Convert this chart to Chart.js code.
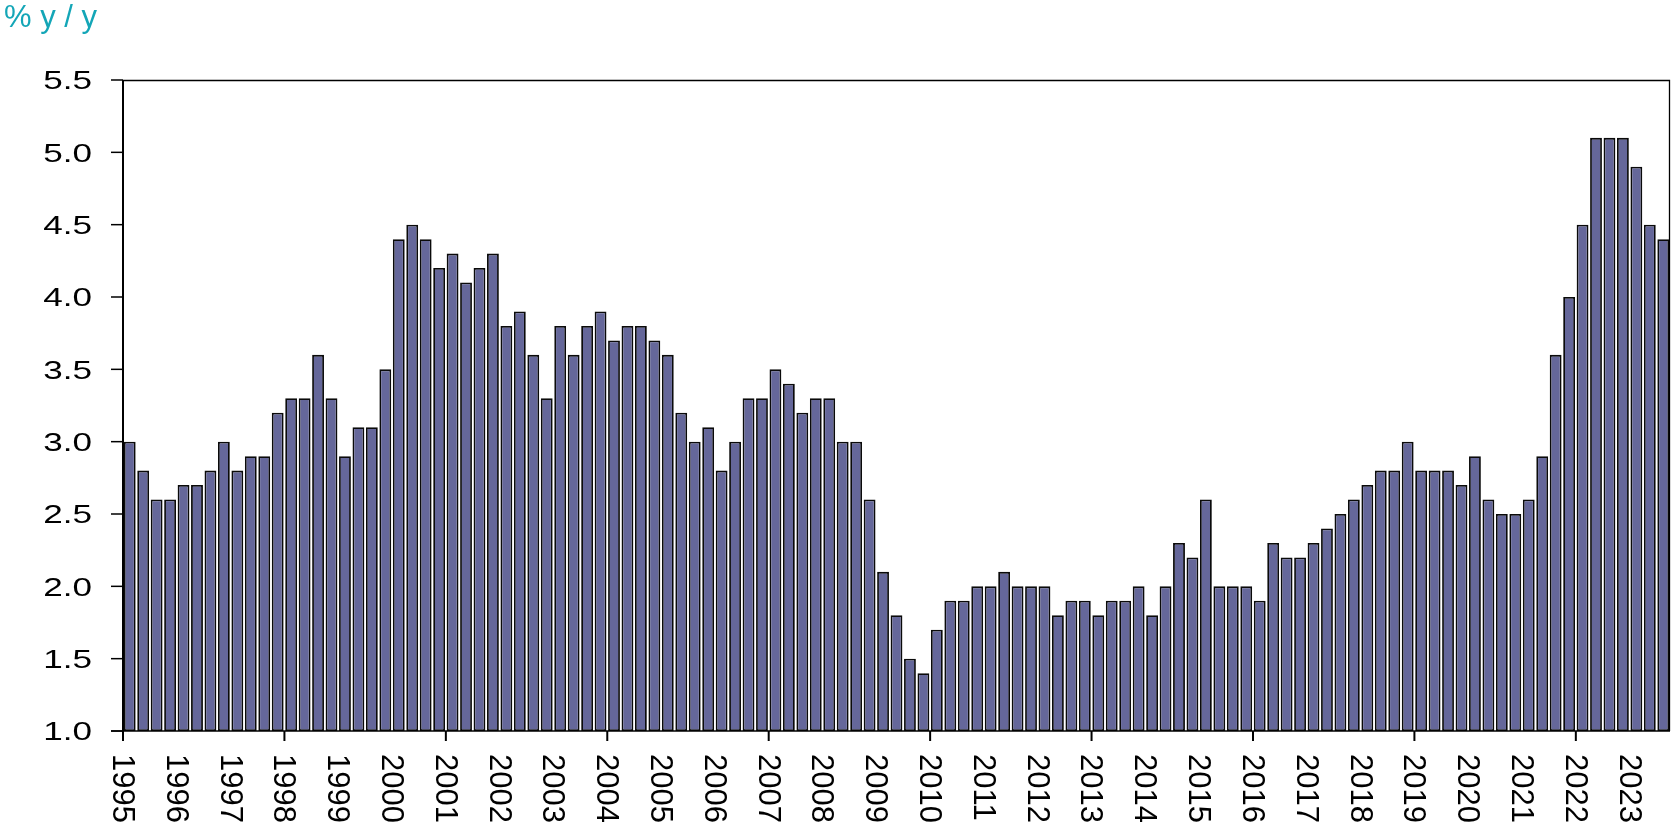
<!DOCTYPE html>
<html>
<head>
<meta charset="utf-8">
<script src="https://cdn.jsdelivr.net/npm/chart.js@4.4.1/dist/chart.umd.min.js"></script>
<style>
  html, body { margin: 0; padding: 0; background: #ffffff; }
  #wrap { position: relative; width: 1671px; height: 822px; }
</style>
</head>
<body>
<div id="wrap"><canvas id="c"></canvas></div>
<script>
// ---------------- data ----------------
const titleText = '% y / y';

const yearLabels = ['1995','1996','1997','1998','1999','2000','2001','2002','2003','2004',
  '2005','2006','2007','2008','2009','2010','2011','2012','2013','2014',
  '2015','2016','2017','2018','2019','2020','2021','2022','2023'];

const majorTickYears = ['1995','1998','2001','2004','2007','2010','2013','2016','2019','2022'];

const quarterNames = ['Q1','Q2','Q3','Q4'];

// quarterly values, % y/y, 1995 Q1 .. 2023 Q3
const values = [
  3.0, 2.8, 2.6, 2.6,   // 1995
  2.7, 2.7, 2.8, 3.0,   // 1996
  2.8, 2.9, 2.9, 3.2,   // 1997
  3.3, 3.3, 3.6, 3.3,   // 1998
  2.9, 3.1, 3.1, 3.5,   // 1999
  4.4, 4.5, 4.4, 4.2,   // 2000
  4.3, 4.1, 4.2, 4.3,   // 2001
  3.8, 3.9, 3.6, 3.3,   // 2002
  3.8, 3.6, 3.8, 3.9,   // 2003
  3.7, 3.8, 3.8, 3.7,   // 2004
  3.6, 3.2, 3.0, 3.1,   // 2005
  2.8, 3.0, 3.3, 3.3,   // 2006
  3.5, 3.4, 3.2, 3.3,   // 2007
  3.3, 3.0, 3.0, 2.6,   // 2008
  2.1, 1.8, 1.5, 1.4,   // 2009
  1.7, 1.9, 1.9, 2.0,   // 2010
  2.0, 2.1, 2.0, 2.0,   // 2011
  2.0, 1.8, 1.9, 1.9,   // 2012
  1.8, 1.9, 1.9, 2.0,   // 2013
  1.8, 2.0, 2.3, 2.2,   // 2014
  2.6, 2.0, 2.0, 2.0,   // 2015
  1.9, 2.3, 2.2, 2.2,   // 2016
  2.3, 2.4, 2.5, 2.6,   // 2017
  2.7, 2.8, 2.8, 3.0,   // 2018
  2.8, 2.8, 2.8, 2.7,   // 2019
  2.9, 2.6, 2.5, 2.5,   // 2020
  2.6, 2.9, 3.6, 4.0,   // 2021
  4.5, 5.1, 5.1, 5.1,   // 2022
  4.9, 4.5, 4.4         // 2023
];

const yTickValues = [1.0, 1.5, 2.0, 2.5, 3.0, 3.5, 4.0, 4.5, 5.0, 5.5];
const yTickLabels = ['1.0','1.5','2.0','2.5','3.0','3.5','4.0','4.5','5.0','5.5'];

// category labels built from the year / quarter lists
const categories = [];
yearLabels.forEach(yr => quarterNames.forEach(q => categories.push(yr + ' ' + q)));
categories.length = values.length;

// ---------------- drawing ----------------
const FONT = '"Liberation Sans", Arial, Helvetica, sans-serif';

const customAxes = {
  id: 'customAxes',
  afterDraw(chart) {
    const { ctx, chartArea: a, scales: { x, y } } = chart;
    ctx.save();
    ctx.strokeStyle = '#000';
    ctx.fillStyle = '#000';

    // frame: top and right
    ctx.lineWidth = 1.3;
    ctx.beginPath();
    ctx.moveTo(a.left, a.top + 0.5);
    ctx.lineTo(a.right - 0.5, a.top + 0.5);
    ctx.lineTo(a.right - 0.5, a.bottom);
    ctx.stroke();

    // y axis line
    ctx.lineWidth = 2;
    ctx.beginPath();
    ctx.moveTo(a.left, a.top);
    ctx.lineTo(a.left, a.bottom);
    ctx.stroke();

    // x axis line
    ctx.lineWidth = 1.5;
    ctx.beginPath();
    ctx.moveTo(a.left - 12, a.bottom);
    ctx.lineTo(a.right, a.bottom);
    ctx.stroke();

    // y ticks and labels
    ctx.font = '26px ' + FONT;
    ctx.textAlign = 'right';
    ctx.textBaseline = 'alphabetic';
    yTickValues.forEach((v, i) => {
      const py = y.getPixelForValue(v);
      ctx.lineWidth = 1.5;
      ctx.beginPath();
      ctx.moveTo(a.left - 12, py);
      ctx.lineTo(a.left, py);
      ctx.stroke();
      ctx.save();
      ctx.translate(a.left - 31, py + 9.3);
      ctx.scale(1.35, 1);
      ctx.fillText(yTickLabels[i], 0, 0);
      ctx.restore();
    });

    // x ticks and labels
    const cw = x.getPixelForValue(1) - x.getPixelForValue(0);
    ctx.font = '31px ' + FONT;
    ctx.textAlign = 'left';
    yearLabels.forEach(yr => {
      const idx = categories.indexOf(yr + ' Q1');
      if (idx < 0) return;
      const px = x.getPixelForValue(idx) - cw / 2;
      if (majorTickYears.includes(yr)) {
        ctx.lineWidth = 2;
        ctx.beginPath();
        ctx.moveTo(px, a.bottom);
        ctx.lineTo(px, a.bottom + 10);
        ctx.stroke();
      }
      ctx.save();
      ctx.translate(px + 1 - 0.358 * 31, a.bottom + 23);
      ctx.rotate(Math.PI / 2);
      ctx.fillText(yr, 0, 0);
      ctx.restore();
    });

    // title
    ctx.font = '31px ' + FONT;
    ctx.fillStyle = '#14A6B7';
    ctx.textAlign = 'left';
    ctx.fillText(titleText, 4, 27);

    ctx.restore();
  }
};

new Chart(document.getElementById('c'), {
  type: 'bar',
  data: {
    labels: categories,
    datasets: [{
      data: values,
      backgroundColor: '#65679A',
      borderColor: '#0a0a0a',
      borderWidth: 1.8,
      borderSkipped: false,
      barPercentage: 0.88,
      categoryPercentage: 1.0,
      base: 1.0
    }]
  },
  options: {
    responsive: true,
    maintainAspectRatio: false,
    animation: false,
    layout: { padding: { left: 123, top: 80, right: 1, bottom: 91 } },
    plugins: { legend: { display: false }, title: { display: false }, tooltip: { enabled: false } },
    scales: {
      x: { display: false, offset: true },
      y: { display: false, min: 1.0, max: 5.5 }
    }
  },
  plugins: [customAxes]
});
</script>
</body>
</html>
